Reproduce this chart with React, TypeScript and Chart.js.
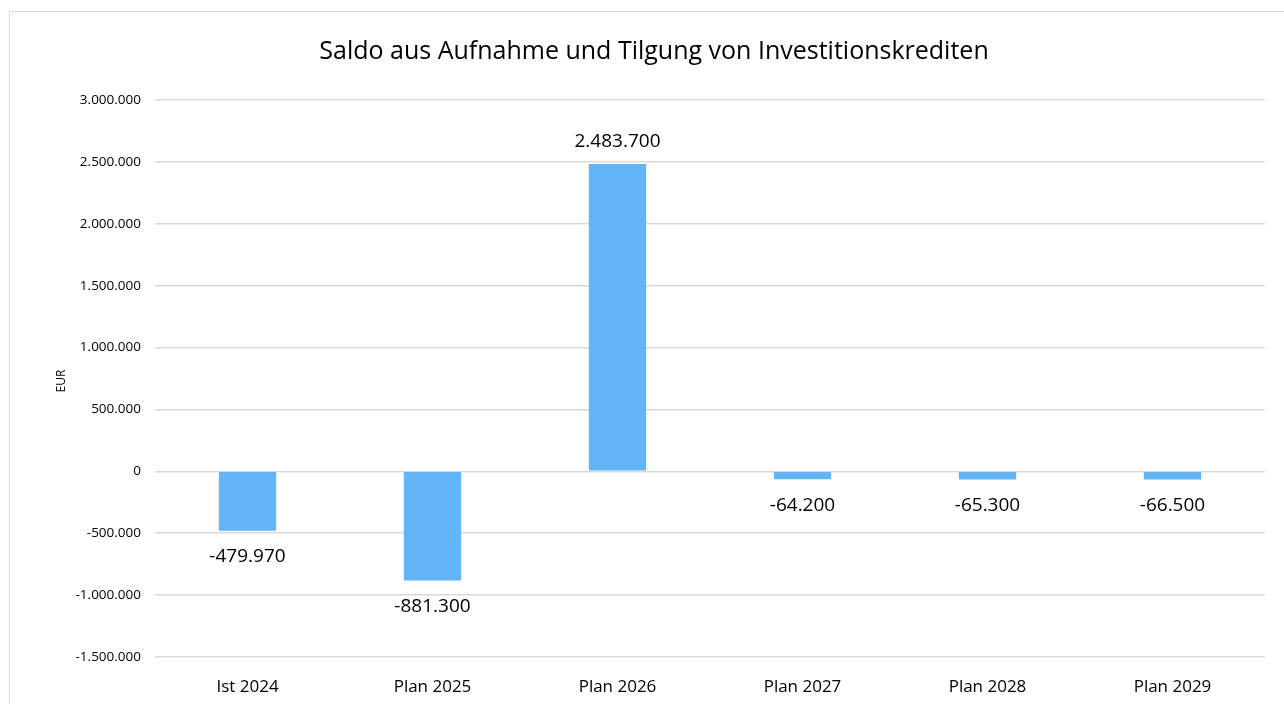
import React, { useEffect, useRef } from "react";
import { Chart, registerables } from "chart.js";

Chart.register(...registerables);

const categories = ["Ist 2024", "Plan 2025", "Plan 2026", "Plan 2027", "Plan 2028", "Plan 2029"];
const values = [-479970, -881300, 2483700, -64200, -65300, -66500];
const yTicks = [3000000, 2500000, 2000000, 1500000, 1000000, 500000, 0, -500000, -1000000, -1500000];
const titleText = "Saldo aus Aufnahme und Tilgung von Investitionskrediten";
const yTitle = "EUR";

const FONT = "'Open Sans', sans-serif";

const fmt = (v: number) => {
  const s = Math.abs(Math.round(v)).toString().replace(/\B(?=(\d{3})+(?!\d))/g, ".");
  return (v < 0 ? "-" : "") + s;
};

const framePlugin = {
  id: "frame",
  beforeDraw(chart: any) {
    const ctx = chart.ctx;
    ctx.save();
    ctx.fillStyle = "#ffffff";
    ctx.fillRect(0, 0, chart.width, chart.height);
    ctx.strokeStyle = "#d9d9d9";
    ctx.lineWidth = 1;
    ctx.beginPath();
    ctx.moveTo(9.5, chart.height);
    ctx.lineTo(9.5, 11.5);
    ctx.lineTo(chart.width, 11.5);
    ctx.stroke();
    // title
    ctx.fillStyle = "#000000";
    ctx.font = `25px ${FONT}`;
    ctx.textAlign = "center";
    ctx.textBaseline = "middle";
    ctx.fillText(titleText, 654, 52);
    // y title
    ctx.save();
    ctx.translate(62, 381);
    ctx.rotate(-Math.PI / 2);
    ctx.font = `12px ${FONT}`;
    ctx.fillText(yTitle, 0, 0);
    ctx.restore();
    ctx.restore();
  },
};

const labelPlugin = {
  id: "barLabels",
  afterDatasetsDraw(chart: any) {
    const ctx = chart.ctx;
    const meta = chart.getDatasetMeta(0);
    ctx.save();
    ctx.fillStyle = "#000000";
    ctx.font = `19px ${FONT}`;
    ctx.textAlign = "center";
    ctx.textBaseline = "middle";
    meta.data.forEach((bar: any, i: number) => {
      const v = values[i];
      if (v >= 0) {
        ctx.fillText(fmt(v), bar.x, bar.y - 22);
      } else {
        ctx.fillText(fmt(v), bar.x, bar.y + 26);
      }
    });
    ctx.restore();
  },
};

export default function App() {
  const ref = useRef<HTMLCanvasElement | null>(null);
  useEffect(() => {
    if (!ref.current) return;
    const chart = new Chart(ref.current, {
      type: "bar",
      data: {
        labels: categories,
        datasets: [
          {
            data: values,
            backgroundColor: "#64b5f6",
            borderWidth: 0,
            categoryPercentage: 1,
            barPercentage: 0.31,
          },
        ],
      },
      options: {
        animation: false,
        responsive: false,
        layout: { padding: { left: 0, right: 19, top: 100, bottom: 0 } },
        plugins: { legend: { display: false }, tooltip: { enabled: false }, title: { display: false } },
        scales: {
          x: {
            grid: { display: false },
            border: { display: false },
            ticks: { color: "#000", font: { family: FONT, size: 17 }, padding: 12 },
            afterFit: (s: any) => { s.height = 47; },
          },
          y: {
            min: -1500000,
            max: 3000000,
            afterBuildTicks: (s: any) => { s.ticks = yTicks.map((v) => ({ value: v })); },
            grid: { color: "#d9d9d9", lineWidth: 1.5, drawTicks: false },
            border: { display: false },
            ticks: {
              color: "#000",
              font: { family: FONT, size: 13.5 },
              padding: 14,
              callback: (v: any) => fmt(Number(v)),
            },
            afterFit: (s: any) => { s.width = 155; },
          },
        },
      },
      plugins: [framePlugin, labelPlugin],
    });
    return () => chart.destroy();
  }, []);
  return (
    <div style={{ position: "fixed", left: 0, top: 0, width: 1284, height: 704 }}>
      <canvas ref={ref} width={1284} height={704} style={{ display: "block" }} />
    </div>
  );
}
